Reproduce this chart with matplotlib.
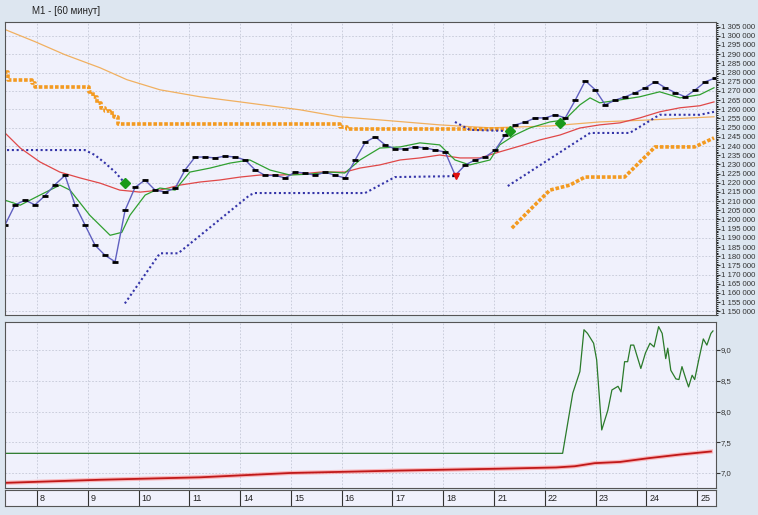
import numpy as np
import matplotlib
matplotlib.use("Agg")
import matplotlib.pyplot as plt
from matplotlib.ticker import MultipleLocator, FuncFormatter

plt.rcParams['font.family'] = ['Liberation Sans', 'DejaVu Sans']

day_labels = ["8", "9", "10", "11", "14", "15", "16", "17", "18", "21", "22", "23", "24", "25"]

# close prices (thousands), uniformly spaced bars starting at day -0.63
close = [1197, 1208, 1210.5, 1208, 1213, 1219, 1224, 1208, 1197, 1186, 1180.5, 1177, 1205, 1217.5,
         1221.5, 1216, 1215, 1217, 1227, 1234, 1234, 1233.5, 1234.5, 1234, 1232.4, 1227, 1224, 1224,
         1222.6, 1225.8, 1225.3, 1224, 1225.8, 1224, 1222.6, 1232.4, 1242, 1245, 1240.6, 1238.4, 1238.4,
         1239.5, 1239, 1237.8, 1236.7, 1224, 1229.7, 1232.4, 1234, 1237.8, 1246, 1251.5, 1253, 1255.3,
         1255.3, 1257, 1255.3, 1265, 1275.5, 1270.6, 1262.4, 1265, 1266.8, 1269, 1271.7, 1275, 1271.7,
         1269, 1266.8, 1270.6, 1275, 1277]
close_t = -0.63 + 0.197 * np.arange(len(close))

green_t = [-0.63, -0.33, 0.06, 0.45, 0.65, 1.04, 1.44, 1.67, 1.83, 2.13, 2.42, 2.72, 3.01, 3.41, 3.80, 4.19,
           4.59, 4.98, 5.37, 5.77, 6.06, 6.36, 6.75, 7.15, 7.54, 7.93, 8.23, 8.52, 8.92, 9.11, 9.41, 9.70,
           10.10, 10.39, 10.69, 10.89, 11.08, 11.48, 11.87, 12.26, 12.66, 13.05, 13.33]
green_v = [1210.5, 1207.8, 1213.3, 1218.7, 1216, 1202.3, 1191.4, 1193, 1202.3, 1213.3, 1217.1, 1216,
           1225.8, 1228, 1230.7, 1232.4, 1226.9, 1224.2, 1224.7, 1225.8, 1225.3, 1232.4, 1238.9, 1239.5,
           1241.7, 1240.6, 1232.4, 1229.7, 1232.4, 1240.6, 1246, 1249.8, 1253.1, 1254.2, 1262.4, 1266.2,
           1263.5, 1265.1, 1266.8, 1269.5, 1266.2, 1267.9, 1271.7]

red_t = [-0.63, -0.33, 0.06, 0.45, 0.85, 1.24, 1.63, 2.03, 2.42, 2.81, 3.21, 3.60, 4.00, 4.39, 4.78, 5.18,
         5.57, 6.06, 6.36, 6.75, 7.15, 7.54, 7.93, 8.33, 8.72, 9.11, 9.51, 9.90, 10.30, 10.69, 11.08,
         11.48, 11.87, 12.26, 12.66, 13.05, 13.33]
red_v = [1247.1, 1238.9, 1231.3, 1225.8, 1222.6, 1219.8, 1216, 1214.9, 1216, 1218.7, 1220.4, 1221.5,
         1223.1, 1224.2, 1224.2, 1224.7, 1225.8, 1225.8, 1228, 1229.7, 1232.4, 1233.5, 1235.1, 1233.5,
         1233.5, 1236.8, 1240, 1243.3, 1246, 1249.8, 1251.5, 1252.6, 1255.3, 1258.6, 1260.8, 1261.9, 1264]

long_t = [-0.63, -0.04, 0.55, 1.24, 1.77, 2.42, 3.21, 4.00, 5.18, 5.96, 6.75, 7.93, 8.92, 10.10, 11.08, 12.07, 13.33]
long_v = [1303.4, 1296.8, 1289.7, 1282.6, 1276.1, 1270.6, 1266.8, 1264, 1259.7, 1255.9, 1254.2, 1251.5,
          1249.9, 1250.9, 1253.1, 1254.2, 1255.9]

orange_hi_t = [-0.63, -0.57, -0.10, -0.04, 1.02, 1.10, 1.18, 1.26, 1.34, 1.44, 1.52, 1.59, 5.96, 6.10, 9.27]
orange_hi_v = [1280.4, 1276.1, 1274.4, 1272.2, 1269.5, 1266.8, 1263.5, 1260.8, 1259.1, 1258, 1255.9,
               1252, 1250.4, 1249.3, 1249.3]
orange_lo_t = [9.35, 9.70, 10.10, 10.49, 10.79, 11.57, 11.87, 12.17, 12.95, 13.33]
orange_lo_v = [1195.3, 1205.1, 1216, 1218.7, 1223.1, 1223.1, 1231.3, 1239.5, 1239.5, 1244.4]

blue1_t = [-0.59, 0.94, 1.14, 1.34, 1.54, 1.73]
blue1_v = [1237.8, 1237.8, 1235.1, 1230.7, 1225.8, 1219.8]
blue2_t = [1.73, 2.42, 2.78, 4.19, 4.29, 6.46, 7.05, 8.23]
blue2_v = [1154.3, 1181.6, 1181.6, 1213.3, 1214.4, 1214.4, 1223.1, 1223.6]
blue3_t = [8.23, 8.52, 9.21]
blue3_v = [1253.1, 1248.8, 1248.2]
blue4_t = [9.27, 10.49, 10.89, 11.67, 12.26, 13.05, 13.33]
blue4_v = [1218.2, 1240, 1247.1, 1247.1, 1257, 1257, 1258.6]

buy_t = [1.73, 9.31, 10.30]
buy_v = [1219.8, 1248.2, 1252.6]
sell_t = [8.25]
sell_v = [1223.6]

ind_t = [-0.63, 10.35, 10.55, 10.69, 10.77, 10.84, 10.96, 11.02, 11.12, 11.24, 11.32, 11.44, 11.50, 11.57,
         11.63, 11.69, 11.75, 11.89, 11.98, 12.07, 12.15, 12.24, 12.31, 12.38, 12.42, 12.48, 12.58, 12.64,
         12.70, 12.78, 12.83, 12.90, 12.95, 13.03, 13.12, 13.19, 13.27, 13.31]
ind_v = [7.32, 7.32, 8.30, 8.65, 9.33, 9.27, 9.11, 8.84, 7.70, 8.02, 8.35, 8.41, 8.32, 8.81, 8.81, 9.08,
         9.08, 8.70, 8.95, 9.11, 9.05, 9.38, 9.27, 8.86, 9.03, 8.67, 8.53, 8.52, 8.73, 8.52, 8.40, 8.59,
         8.52, 8.84, 9.18, 9.08, 9.27, 9.31]
ind_red_t = [-0.63, 1.24, 3.21, 4.98, 7.15, 9.11, 10.22, 10.59, 10.98, 11.48, 12.03, 12.66, 13.27]
ind_red_v = [6.84, 6.89, 6.93, 7.00, 7.04, 7.07, 7.09, 7.11, 7.16, 7.18, 7.24, 7.30, 7.35]

BG = "#f0f1fc"
fig = plt.figure(figsize=(7.58, 5.15), dpi=100, facecolor="#dde6f0")
fig.text(0.042, 0.978, "M1 - [60 минут]", fontsize=7, va="center", color="#222222")
XL = (-0.63, 13.37)

def style(ax):
    ax.set_facecolor(BG)
    ax.set_xlim(*XL)
    ax.set_xticks(np.arange(len(day_labels)))
    ax.tick_params(axis="x", length=0, labelbottom=False)
    ax.yaxis.tick_right()
    ax.grid(True, axis="x", color="#c4c8d6", linestyle=(0, (2, 2)), linewidth=0.6)
    for s in ax.spines.values():
        s.set_color("#555555")
        s.set_linewidth(0.8)
    ax.tick_params(axis="y", labelsize=5.6, length=3, pad=0.5, colors="#333333")

ax1 = fig.add_axes([0.0066, 0.3883, 0.938, 0.569])
style(ax1)
ax1.set_ylim(1148, 1307.5)
ax1.yaxis.set_major_locator(MultipleLocator(5))
ax1.yaxis.set_minor_locator(MultipleLocator(1))
ax1.tick_params(axis="y", which="minor", length=1.5)
ax1.yaxis.set_major_formatter(FuncFormatter(lambda v, p: f"{int(round(v*1000)):,}".replace(",", " ")))
for gy in np.arange(1150, 1306, 10):
    ax1.axhline(gy, color="#c4c8d6", linestyle=(0, (2, 2)), linewidth=0.6, zorder=0.5)

ax1.plot(long_t, long_v, color="#f0b060", lw=0.9)
ax1.plot(orange_hi_t, orange_hi_v, color="#f39a20", lw=2.6, ls=(0, (1, 0.5)), drawstyle="steps-post")
ax1.plot(orange_lo_t, orange_lo_v, color="#f39a20", lw=2.6, ls=(0, (1, 0.5)))
for bt, bv in [(blue1_t, blue1_v), (blue2_t, blue2_v), (blue3_t, blue3_v), (blue4_t, blue4_v)]:
    ax1.plot(bt, bv, color="#3434a8", lw=1.5, ls=(0, (1, 1.3)))
ax1.plot(red_t, red_v, color="#e04848", lw=0.9)
ax1.plot(green_t, green_v, color="#30a030", lw=0.9)
ax1.plot(close_t, close, color="#6060c0", lw=1.0)
ax1.plot(close_t, close, ls="none", marker="_", color="black", ms=4, mew=2)
ax1.plot(buy_t, buy_v, ls="none", marker="D", color="#1a9a1a", ms=5)
ax1.plot(sell_t, sell_v, ls="none", marker="v", color="#e01010", ms=5)

ax2 = fig.add_axes([0.0066, 0.0524, 0.938, 0.3223])
style(ax2)
ax2.grid(True, axis="y", color="#c4c8d6", linestyle=(0, (2, 2)), linewidth=0.6)
ax2.set_ylim(6.756, 9.455)
ax2.yaxis.set_major_locator(MultipleLocator(0.5))
ax2.yaxis.set_major_formatter(FuncFormatter(lambda v, p: f"{v:.1f}".replace(".", ",")))
ax2.plot(ind_t, ind_v, color="#2a7a2a", lw=0.9)
ax2.plot(ind_red_t, ind_red_v, color="#ff9090", lw=3.0, alpha=0.6)
ax2.plot(ind_red_t, ind_red_v, color="#c01818", lw=1.3)

ax3 = fig.add_axes([0.0066, 0.0175, 0.938, 0.031])
ax3.set_facecolor(BG)
ax3.set_xlim(*XL)
ax3.set_ylim(0, 1)
ax3.set_yticks([])
ax3.set_xticks([])
for s in ax3.spines.values():
    s.set_color("#555555")
    s.set_linewidth(0.8)
for i, lab in enumerate(day_labels):
    ax3.axvline(i, color="#333333", lw=0.8)
    ax3.text(i + 0.06, 0.5, lab, fontsize=6.5, va="center", ha="left", color="#222222")

fig.savefig("out.png", dpi=100, facecolor=fig.get_facecolor())
